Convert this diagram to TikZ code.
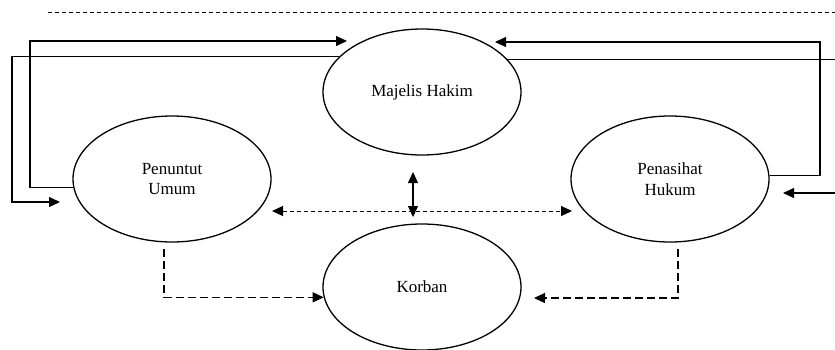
\documentclass[tikz,border=0pt]{standalone}
\usepackage{fontspec}
\setmainfont{Liberation Serif}
\usepackage{tikz}
\usetikzlibrary{shapes.geometric}
\usetikzlibrary{arrows.meta}

\begin{document}
\begin{tikzpicture}[x=1pt, y=-1pt,
      pihak/.style={ellipse, draw, line width=1.3pt, minimum width=198pt, minimum height=126pt,
        inner sep=0pt, align=center, font=\fontsize{17}{20.5}\selectfont},
      alur/.style={line width=1.1pt, -{Triangle[length=11pt, width=10pt]}},
      alurdua/.style={line width=1.1pt, {Triangle[length=11pt, width=10pt]}-{Triangle[length=11pt, width=10pt]}},
      titik/.style={line width=1pt, dash pattern=on 4pt off 3pt,
        {Triangle[length=11pt, width=10pt]}-{Triangle[length=11pt, width=10pt]}},
      putus/.style={line width=1.3pt, dash pattern=on 8pt off 4pt, -{Triangle[length=11pt, width=10pt]}}]
      \useasboundingbox (0, 0) rectangle (835, 349);
      % garis batas atas
      \coordinate (batasA) at (48, 12);
      \coordinate (batasB) at (835, 12);
      \draw[line width=0.8pt, dash pattern=on 4pt off 3pt] (batasA) -- (batasB);
      % para pihak
      \node[pihak] (hakim) at (422, 92) {Majelis Hakim};
      \node[pihak] (penuntut) at (172, 179) {Penuntut\\Umum};
      \node[pihak] (penasihat) at (670, 179) {Penasihat\\Hukum};
      \node[pihak] (korban) at (422, 287) {Korban};
      % titik ujung bebas
      \coordinate (pumasuk) at (60, 202);
      \coordinate (hkmasuk1) at (347, 41);
      \coordinate (hkmasuk2) at (495, 42);
      \coordinate (hkkeluar) at (835, 59);
      \coordinate (phluar) at (835, 193);
      \coordinate (phmasuk) at (783, 193);
      \coordinate (atas) at (413, 172);
      \coordinate (bawah) at (413, 217);
      \coordinate (kiri) at (272, 211);
      \coordinate (kanan) at (572, 211);
      \coordinate (pubawah) at (164, 249);
      \coordinate (phbawah) at (678, 249);
      \coordinate (kbmasuk) at (534, 298);
      % garis lurus
      \draw[alur] (hakim.157) -| (12, 202) -- (pumasuk);
      \draw[alur] (penuntut.185) -| (30, 41) -- (hkmasuk1);
      \draw[alur] (penasihat.2) -| (820, 42) -- (hkmasuk2);
      \draw[line width=1.1pt] (hakim.21) -- (hakim.21 -| hkkeluar);
      \draw[alur] (phluar) -- (phmasuk);
      \draw[alurdua] (atas) -- (bawah);
      % garis putus
      \draw[titik] (kiri) -- (kanan);
      \draw[putus] (pubawah) |- (korban.186);
      \draw[putus] (phbawah) |- (kbmasuk);
    \end{tikzpicture}
\end{document}
